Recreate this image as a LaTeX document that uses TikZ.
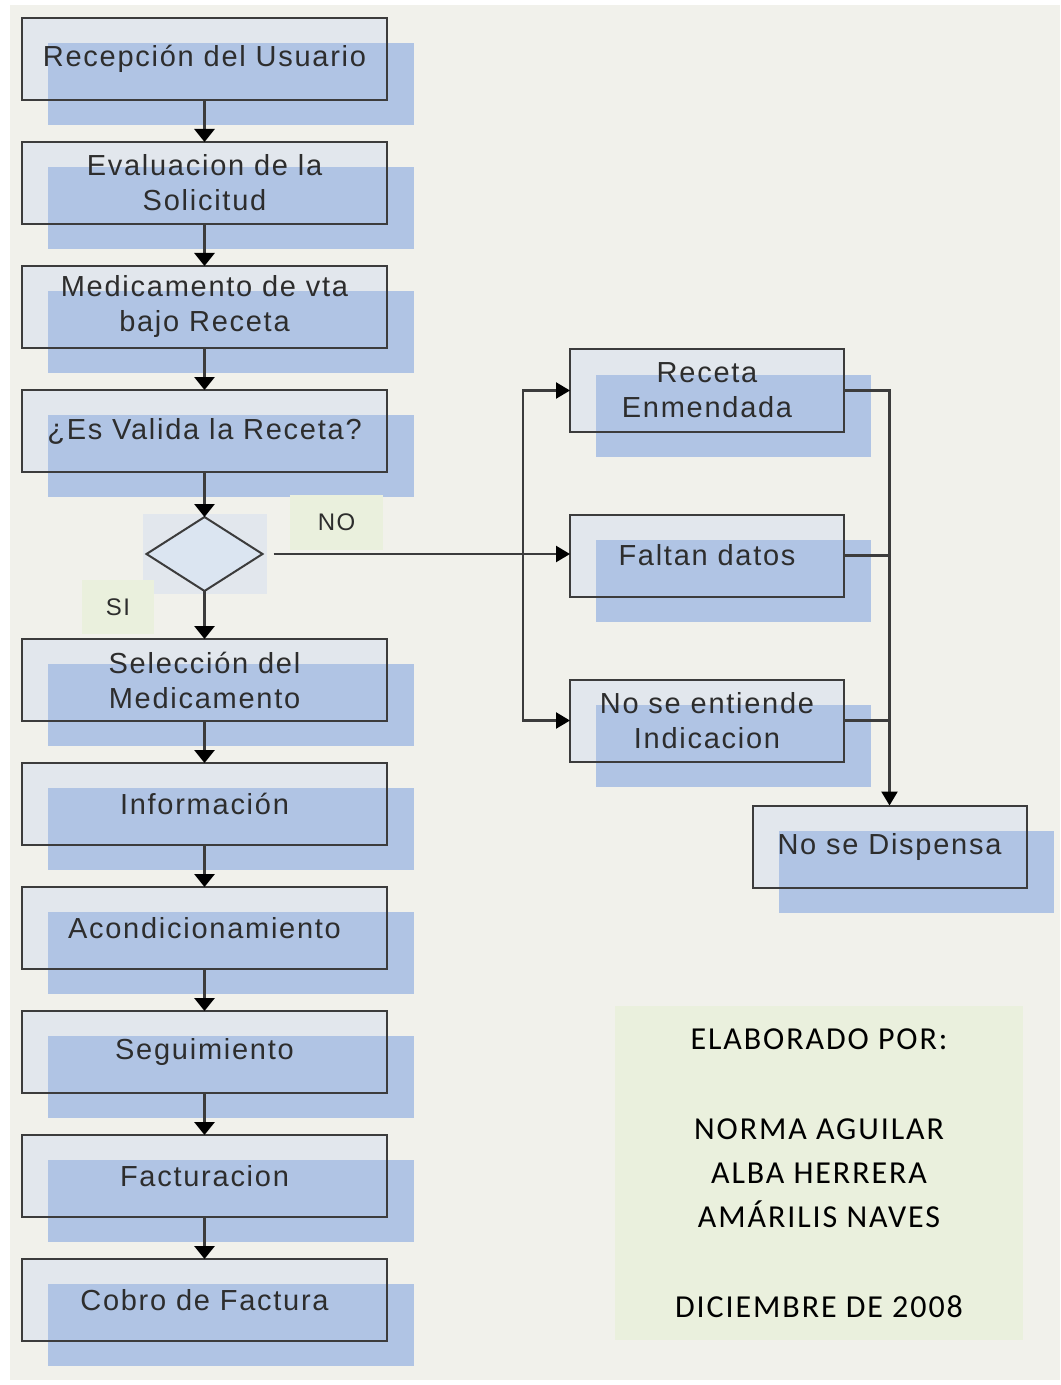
\documentclass[tikz,border=0pt]{standalone}
\usepackage{fontspec}
\setmainfont[LetterSpace=6]{Liberation Sans}
\newfontfamily\creditos[LetterSpace=6]{Carlito}
\usepackage{tikz}
\usetikzlibrary{positioning, arrows.meta, shapes.geometric, backgrounds}

\definecolor{fondo}{RGB}{241,241,235}
\definecolor{azul}{RGB}{176,196,228}
\definecolor{cajafondo}{RGB}{226,231,237}
\definecolor{rombofondo}{RGB}{219,229,241}
\definecolor{verde}{RGB}{234,240,221}
\definecolor{linea}{RGB}{60,60,60}
\definecolor{texto}{RGB}{45,45,45}

% caja clara + sombra azul desplazada, detras del nodo
\newcommand{\sombra}[1]{%
  \begin{scope}[on background layer]
    \fill[cajafondo] (#1.south west) rectangle (#1.north east);
    \fill[azul] ([xshift=13pt,yshift=-12.5pt]#1.south west) rectangle ([xshift=13.5pt,yshift=-12.5pt]#1.north east);
  \end{scope}}

\begin{document}
\begin{tikzpicture}[x=0.5pt, y=-0.5pt,
        node distance=21pt,
        paso/.style={rectangle, draw=linea, line width=1pt, outer sep=0pt, minimum width=182.5pt, minimum height=41pt, inner sep=2pt, align=center, text=texto, font=\fontsize{14.5}{17.5}\selectfont},
        lado/.style={paso, minimum width=137pt},
        rombo/.style={diamond, draw=linea, line width=1pt, outer sep=0pt, fill=rombofondo, aspect=1.6, minimum width=58pt, minimum height=37pt, inner sep=0pt},
        etiqueta/.style={fill=verde, text=texto, font=\fontsize{12}{14}\selectfont},
        flecha/.style={-{Triangle[width=10pt, length=6.5pt, color=black]}, line width=1.5pt, draw=linea},
        flechab/.style={-{Triangle[width=8pt, length=7pt, color=black]}, line width=1.2pt, draw=linea},
        lineab/.style={line width=1.2pt, draw=linea}
    ]
    \useasboundingbox (0,0) rectangle (1060,1385);
    \begin{scope}[on background layer]
        \fill[white] (0,0) rectangle (1060,1385);
        \fill[fondo] (10,5) rectangle (1060,1380);
    \end{scope}

    % columna principal
    \node[paso] (recepcion) at (204.5,59) {Recepción del Usuario};
    \node[paso, below=of recepcion] (evaluacion) {Evaluacion de la\\Solicitud};
    \node[paso, below=of evaluacion] (medicamento) {Medicamento de vta\\bajo Receta};
    \node[paso, below=of medicamento] (valida) {¿Es Valida la Receta?};
    \node[rombo, below=22.5pt of valida] (decision) {};
    \node[paso, below=24pt of decision] (seleccion) {Selección del\\Medicamento};
    \node[paso, below=of seleccion] (informacion) {Información};
    \node[paso, below=of informacion] (acondicionamiento) {Acondicionamiento};
    \node[paso, below=of acondicionamiento] (seguimiento) {Seguimiento};
    \node[paso, below=of seguimiento] (facturacion) {Facturacion};
    \node[paso, below=of facturacion] (cobro) {Cobro de Factura};

    % rama NO
    \node[lado] (receta) at (707,390.5) {Receta\\Enmendada};
    \node[lado, below=41.5pt of receta] (faltan) {Faltan datos};
    \node[lado, below=41.5pt of faltan] (entiende) {No se entiende\\Indicacion};
    \node[lado] (dispensa) at (889.5,846.5) {No se Dispensa};

    \node[etiqueta, minimum width=46.5pt, minimum height=27.5pt] (no) at (336.5,522.5) {NO};
    \node[etiqueta, minimum width=36pt, minimum height=27pt] (si) at (118,607) {SI};

    \node[fill=verde, minimum width=204pt, minimum height=167pt, align=center, font=\creditos\fontsize{16}{22}\selectfont] (autores) at (819,1173)
        {ELABORADO POR:\\[23pt] NORMA AGUILAR\\ALBA HERRERA\\AMÁRILIS NAVES\\[23pt] DICIEMBRE DE 2008};

    \foreach \n in {recepcion, evaluacion, medicamento, valida, seleccion, informacion, acondicionamiento, seguimiento, facturacion, cobro, receta, faltan, entiende, dispensa}
        {\sombra{\n}}
    \begin{scope}[on background layer]
        \path (decision.west |- decision.south) ++(-2pt,-1.5pt) coordinate (rsw);
        \path (decision.east |- decision.north) ++(2pt,1.5pt) coordinate (rne);
        \fill[cajafondo] (rsw) rectangle (rne);
    \end{scope}

    \foreach \a/\b in {recepcion/evaluacion, evaluacion/medicamento, medicamento/valida, valida/decision, decision/seleccion, seleccion/informacion, informacion/acondicionamiento, acondicionamiento/seguimiento, seguimiento/facturacion, facturacion/cobro}
        \draw[flecha] (\a) -- (\b);

    \coordinate (bifurca) at (523,556.5);
    \draw[flechab] ([xshift=5.5pt]decision.east) -- (decision.east -| faltan.west);
    \draw[flechab] (bifurca) |- (receta.west);
    \draw[flechab] (bifurca) |- (entiende.west);
    \draw[flechab] (receta.east) -| (dispensa.north);
    \draw[lineab] (faltan.east) -- (faltan.east -| dispensa.north);
    \draw[lineab] (entiende.east) -- (entiende.east -| dispensa.north);
\end{tikzpicture}
\end{document}
